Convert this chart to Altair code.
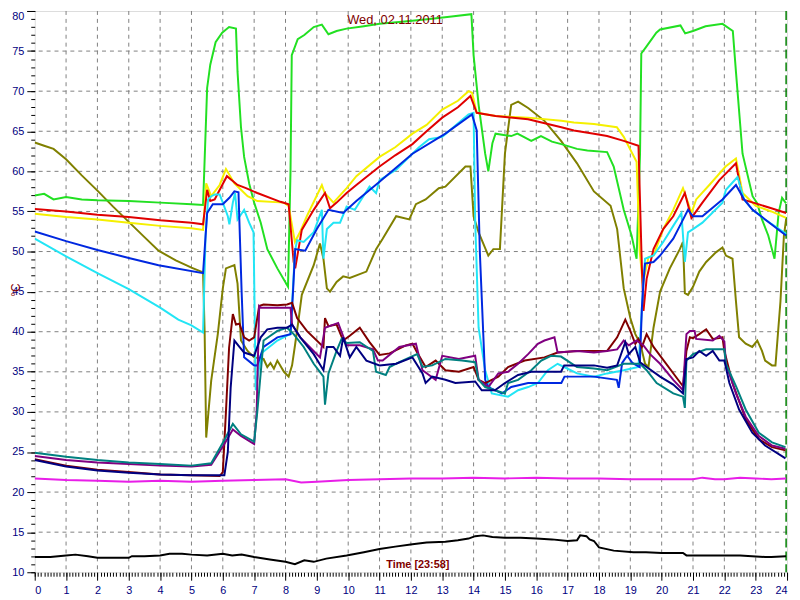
import altair as alt
import pandas as pd

# ---------------- data (hours, °C) ----------------
olive_t = [0, 0.3, 0.6, 1.0, 1.5, 2.0, 2.5, 3.0, 3.5, 3.95, 4.5, 5.0, 5.37, 5.42, 5.47, 5.63, 5.84, 6.0, 6.1, 6.37, 6.47, 6.58, 6.79, 7.0, 7.3, 7.42, 7.52, 7.63, 7.74, 7.95, 8.1, 8.21, 8.31, 8.4, 8.52, 8.9, 9.1, 9.21, 9.32, 9.42, 9.63, 9.84, 10.05, 10.58, 10.89, 11.1, 11.53, 11.95, 12.16, 12.47, 12.89, 13.1, 13.74, 13.9, 14.0, 14.16, 14.47, 14.63, 14.84, 15.0, 15.2, 15.42, 15.74, 16.26, 16.79, 17.3, 17.84, 18.37, 18.58, 18.79, 19.0, 19.16, 19.32, 19.47, 19.58, 19.74, 19.95, 20.26, 20.58, 20.68, 20.74, 20.84, 21.0, 21.2, 21.42, 21.73, 21.94, 22.05, 22.26, 22.37, 22.47, 22.68, 22.89, 23.05, 23.2, 23.3, 23.52, 23.63, 23.79, 23.9, 23.97]
olive_v = [63.6, 63.2, 62.8, 61.5, 59.5, 57.6, 55.6, 53.7, 51.8, 50.1, 48.9, 48.0, 47.4, 40.0, 26.8, 33.9, 39.7, 45.4, 47.9, 48.3, 46.0, 38.9, 37.6, 36.8, 36.6, 35.6, 36.1, 35.4, 36.4, 35.0, 34.4, 35.8, 38.5, 41.0, 44.6, 48.3, 51.0, 49.1, 45.4, 45.0, 46.2, 46.9, 46.7, 47.5, 50.3, 51.6, 54.4, 54.0, 55.9, 56.5, 57.9, 58.1, 60.6, 60.6, 54.4, 52.4, 49.5, 50.3, 50.3, 62.2, 68.3, 68.7, 67.9, 66.3, 63.8, 61.0, 57.5, 55.7, 52.8, 45.4, 41.7, 39.7, 38.5, 36.0, 35.6, 40.5, 45.0, 47.9, 50.3, 51.2, 44.8, 44.6, 45.6, 47.5, 48.7, 49.9, 50.5, 49.5, 49.1, 43.8, 39.3, 38.5, 38.1, 38.9, 37.6, 36.4, 35.8, 35.8, 43.8, 52.0, 54.0]

green_t = [0, 0.3, 0.6, 1.0, 1.5, 2.0, 3.0, 4.0, 5.0, 5.37, 5.5, 5.6, 5.77, 5.98, 6.2, 6.42, 6.47, 6.58, 6.68, 6.84, 7.0, 7.21, 7.42, 7.74, 8.08, 8.16, 8.2, 8.39, 8.6, 8.9, 9.16, 9.37, 9.63, 9.95, 10.5, 11.0, 11.8, 12.6, 13.3, 13.93, 14.0, 14.16, 14.37, 14.47, 14.6, 14.7, 15.2, 15.4, 15.84, 16.15, 16.5, 16.8, 17.3, 17.63, 18.26, 18.47, 18.79, 19.04, 19.2, 19.31, 19.35, 19.5, 19.83, 19.95, 20.6, 20.75, 21.0, 21.4, 21.94, 22.27, 22.37, 22.58, 22.9, 23.05, 23.2, 23.4, 23.6, 23.73, 23.84, 23.97]
green_v = [57.0, 57.2, 56.5, 56.8, 56.5, 56.4, 56.3, 56.1, 55.9, 55.8, 70.4, 73.3, 76.1, 77.3, 78.0, 77.8, 72.4, 65.5, 61.8, 58.5, 56.1, 53.6, 50.3, 47.9, 45.6, 60.0, 74.5, 76.5, 77.0, 78.0, 78.3, 77.1, 77.5, 77.8, 78.1, 78.4, 78.7, 79.0, 79.3, 79.6, 74.5, 68.3, 62.2, 60.0, 63.5, 64.7, 64.4, 64.7, 63.8, 64.4, 63.7, 63.4, 62.8, 62.6, 62.4, 60.6, 55.2, 52.0, 49.1, 62.2, 74.7, 75.5, 77.3, 77.7, 78.2, 77.2, 77.5, 78.1, 78.4, 77.5, 72.4, 62.2, 56.9, 56.0, 54.0, 52.0, 49.1, 54.8, 56.7, 56.0]

yellow_t = [0, 1, 2, 3, 4, 5, 5.37, 5.47, 5.63, 5.9, 6.1, 6.37, 6.58, 6.79, 7.0, 7.1, 7.95, 8.1, 8.3, 8.46, 8.68, 9.16, 9.25, 9.53, 9.95, 10.26, 11.0, 11.5, 12.05, 12.5, 13.0, 13.5, 13.84, 13.95, 14.1, 14.7, 15.74, 16.8, 17.2, 17.84, 18.57, 18.79, 19.2, 19.3, 19.4, 19.58, 19.74, 20.05, 20.37, 20.68, 20.84, 20.95, 21.1, 21.52, 22.04, 22.37, 22.58, 23.0, 23.5, 23.97]
yellow_v = [54.7, 54.3, 54.0, 53.6, 53.2, 52.9, 52.7, 58.5, 56.9, 58.3, 60.3, 58.5, 57.7, 56.9, 56.5, 56.3, 56.1, 55.7, 51.2, 52.4, 54.4, 58.3, 57.3, 56.1, 57.9, 59.4, 61.8, 63.0, 64.7, 65.8, 67.7, 68.8, 70.0, 69.8, 67.3, 66.9, 66.7, 66.3, 66.1, 65.9, 65.5, 64.3, 61.2, 50.0, 46.0, 49.3, 49.5, 52.8, 55.2, 57.9, 56.1, 54.8, 56.5, 58.3, 60.6, 61.6, 57.3, 55.7, 55.0, 54.2]

red_t = [0, 1, 2, 3, 4, 5, 5.37, 5.5, 5.6, 5.74, 6.13, 6.47, 6.74, 7.1, 7.84, 8.1, 8.26, 8.31, 8.52, 8.9, 9.26, 9.42, 9.63, 9.95, 10.26, 11.0, 11.5, 12.05, 12.5, 13.0, 13.5, 13.9, 14.1, 14.7, 15.74, 16.8, 17.2, 17.84, 18.26, 18.79, 19.26, 19.37, 19.42, 19.52, 19.74, 20.05, 20.37, 20.74, 20.95, 21.3, 21.84, 22.37, 22.58, 23.0, 23.5, 23.97]
red_v = [55.3, 55.0, 54.6, 54.3, 53.9, 53.6, 53.4, 57.7, 56.3, 56.5, 59.4, 58.3, 57.9, 57.3, 56.2, 55.9, 48.7, 47.9, 52.7, 55.2, 57.3, 55.4, 56.1, 57.3, 58.3, 60.6, 62.0, 63.4, 65.0, 66.7, 68.0, 69.4, 67.3, 66.9, 66.5, 65.5, 65.1, 64.7, 64.4, 63.8, 63.2, 47.9, 42.6, 46.6, 50.3, 52.8, 54.4, 57.3, 54.2, 56.1, 58.9, 61.0, 56.5, 56.0, 55.4, 54.8]

cyan_t = [0, 1, 2, 3, 4, 4.58, 5.0, 5.37, 5.45, 5.53, 5.63, 5.74, 5.9, 6.0, 6.16, 6.21, 6.32, 6.39, 6.47, 6.68, 6.84, 6.98, 7.05, 7.16, 7.26, 7.74, 8.05, 8.16, 8.3, 8.37, 8.58, 8.9, 9.16, 9.21, 9.32, 9.53, 9.74, 9.95, 10.21, 10.68, 10.89, 11.0, 11.53, 12.26, 12.58, 13.0, 13.84, 14.0, 14.05, 14.16, 14.37, 14.58, 15.1, 15.42, 15.74, 16.05, 16.37, 16.68, 16.89, 17.3, 17.84, 18.26, 18.79, 19.26, 19.4, 19.47, 19.74, 20.05, 20.37, 20.63, 20.74, 20.84, 21.0, 21.3, 21.94, 22.05, 22.42, 22.63, 22.9, 23.3, 23.97]
cyan_v = [51.6, 49.4, 47.3, 45.3, 43.0, 41.5, 40.8, 39.9, 52.0, 56.5, 56.9, 57.1, 57.1, 56.1, 54.4, 53.4, 56.1, 57.3, 54.0, 55.2, 53.6, 52.4, 32.7, 35.6, 37.4, 38.9, 39.5, 39.7, 50.0, 51.4, 51.2, 52.4, 55.2, 49.1, 52.8, 53.6, 53.6, 55.6, 55.2, 58.1, 57.3, 58.9, 60.2, 63.0, 64.0, 64.3, 67.1, 67.3, 54.0, 40.5, 35.2, 32.3, 31.9, 32.7, 33.1, 33.6, 35.2, 36.0, 35.6, 34.8, 34.4, 34.8, 35.2, 35.6, 45.0, 49.1, 49.5, 51.2, 53.2, 54.8, 48.7, 52.4, 52.8, 53.6, 56.1, 57.7, 59.3, 56.5, 55.2, 54.0, 52.2]

blue_t = [0, 1, 2, 3, 3.95, 5.37, 5.5, 5.68, 6.0, 6.21, 6.37, 6.5, 6.6, 6.68, 7.0, 7.1, 7.3, 7.74, 8.16, 8.24, 8.31, 8.63, 9.0, 9.37, 9.84, 10.26, 11.0, 12.05, 13.1, 13.95, 14.1, 14.2, 14.37, 14.47, 14.9, 15.2, 15.74, 16.8, 16.9, 17.84, 18.57, 18.63, 18.74, 18.9, 19.07, 19.3, 19.37, 19.42, 19.47, 19.74, 19.95, 20.37, 20.58, 20.84, 21.0, 21.3, 21.94, 22.37, 22.63, 22.9, 23.3, 23.97]
blue_v = [52.5, 51.3, 50.2, 49.2, 48.3, 47.3, 54.8, 55.9, 55.9, 56.7, 57.5, 57.4, 45.0, 36.8, 35.8, 35.8, 38.1, 39.3, 39.7, 45.0, 50.3, 50.1, 52.8, 55.2, 54.8, 56.3, 58.7, 62.2, 64.7, 67.1, 65.1, 49.9, 34.0, 33.1, 32.3, 33.1, 33.6, 33.6, 34.4, 34.4, 34.0, 33.0, 36.1, 37.0, 36.1, 35.6, 43.0, 46.2, 48.5, 48.7, 49.5, 51.6, 53.2, 55.2, 54.4, 54.4, 56.5, 58.3, 56.5, 55.2, 54.0, 52.0]

maroon_t = [0, 1, 2, 3, 4, 5, 5.9, 6.0, 6.1, 6.2, 6.32, 6.42, 6.53, 6.68, 6.84, 7.0, 7.16, 7.3, 7.74, 8.05, 8.21, 8.37, 8.68, 9.21, 9.26, 9.37, 9.63, 9.84, 10.05, 10.37, 10.68, 11.0, 11.32, 11.84, 12.05, 12.2, 12.47, 12.79, 13.1, 13.53, 14.0, 14.16, 14.37, 14.79, 15.1, 15.63, 16.26, 16.68, 17.3, 18.26, 18.58, 18.84, 19.0, 19.16, 19.26, 19.37, 19.52, 19.74, 20.68, 20.79, 20.9, 21.0, 21.2, 21.42, 21.63, 21.84, 21.94, 22.0, 22.26, 22.68, 23.1, 23.52, 23.95]
maroon_v = [24.1, 23.3, 22.8, 22.5, 22.2, 22.1, 22.0, 22.5, 30.0, 38.0, 42.2, 40.9, 41.0, 39.3, 38.9, 39.3, 43.2, 43.4, 43.3, 43.4, 43.6, 41.7, 40.1, 38.1, 41.7, 40.7, 40.9, 38.9, 39.5, 40.5, 38.7, 37.1, 37.3, 38.3, 38.5, 37.4, 35.6, 36.4, 35.2, 35.0, 35.6, 34.0, 33.6, 34.4, 35.6, 36.4, 36.8, 37.4, 37.6, 37.6, 39.3, 41.5, 40.1, 38.5, 39.1, 38.1, 39.7, 38.1, 33.2, 37.6, 39.3, 39.2, 39.7, 40.3, 39.1, 39.2, 39.3, 37.6, 33.6, 29.1, 26.6, 25.6, 25.2]

purple_t = [0, 1, 2, 3, 4, 5, 5.63, 6.05, 6.32, 6.58, 7.0, 7.08, 7.16, 7.21, 7.5, 8.0, 8.16, 8.21, 8.47, 9.1, 9.26, 9.68, 9.95, 10.37, 10.79, 10.95, 11.1, 11.63, 12.16, 12.37, 12.79, 13.0, 13.53, 14.05, 14.16, 14.47, 14.79, 15.1, 15.42, 15.74, 16.05, 16.26, 16.58, 16.68, 17.3, 17.84, 18.26, 18.58, 18.79, 18.95, 19.2, 19.42, 19.63, 19.95, 20.37, 20.68, 20.79, 20.9, 21.05, 21.1, 21.63, 21.84, 22.0, 22.05, 22.37, 22.68, 23.1, 23.52, 23.95]
purple_v = [24.5, 24.0, 23.7, 23.5, 23.3, 23.2, 23.4, 26.0, 27.8, 27.0, 26.0, 30.0, 43.2, 43.0, 43.0, 43.0, 43.0, 40.9, 39.3, 36.8, 40.5, 41.1, 38.3, 38.3, 37.8, 36.4, 36.4, 38.1, 38.5, 35.2, 34.0, 37.0, 36.6, 37.0, 34.0, 33.1, 34.8, 35.0, 36.0, 37.2, 38.5, 38.9, 39.3, 37.4, 37.6, 37.4, 37.6, 37.8, 38.9, 38.3, 38.9, 38.3, 37.2, 36.0, 34.0, 32.7, 39.7, 40.1, 40.1, 39.1, 38.9, 39.5, 38.8, 36.0, 32.3, 29.4, 27.0, 25.8, 25.4]

teal_t = [0, 1, 2, 3, 4, 5, 5.63, 6.05, 6.32, 6.58, 7.0, 7.1, 7.3, 7.74, 8.05, 8.26, 8.58, 8.9, 9.21, 9.26, 9.37, 9.63, 9.79, 9.95, 10.37, 10.79, 10.89, 11.2, 11.32, 11.63, 12.2, 12.37, 12.68, 13.1, 13.63, 14.05, 14.16, 14.37, 14.68, 15.0, 15.1, 15.42, 15.84, 16.16, 16.47, 16.79, 17.3, 17.84, 18.26, 18.79, 19.31, 19.52, 19.84, 20.37, 20.68, 20.74, 20.79, 21.0, 21.42, 22.0, 22.05, 22.37, 22.68, 23.1, 23.52, 23.95]
teal_v = [24.9, 24.4, 24.0, 23.7, 23.5, 23.3, 23.6, 26.5, 28.5, 27.2, 26.3, 30.0, 38.9, 40.1, 40.5, 39.7, 38.1, 36.0, 34.4, 30.9, 34.8, 37.6, 39.1, 38.6, 38.7, 37.6, 35.0, 34.6, 35.6, 36.2, 37.2, 35.6, 35.8, 36.6, 36.4, 36.2, 34.0, 33.1, 32.7, 32.3, 33.6, 34.0, 35.2, 36.4, 37.0, 36.9, 35.6, 35.4, 35.2, 36.0, 36.0, 35.2, 33.6, 32.3, 31.9, 30.5, 36.4, 37.2, 37.8, 37.8, 36.0, 33.2, 30.3, 27.4, 26.2, 25.6]

navy_t = [0, 0.5, 1, 2, 3, 4, 5, 6.05, 6.16, 6.25, 6.37, 6.53, 6.68, 7.0, 7.21, 7.42, 7.74, 8.05, 8.21, 8.47, 8.9, 9.21, 9.32, 9.53, 9.74, 9.84, 10.05, 10.26, 10.58, 11.0, 11.53, 12.05, 12.37, 12.47, 12.68, 13.1, 13.42, 14.05, 14.26, 14.68, 15.0, 15.42, 15.84, 16.79, 16.89, 17.84, 18.26, 18.58, 18.74, 18.84, 18.95, 19.16, 19.31, 19.52, 19.95, 20.37, 20.68, 20.79, 21.0, 21.2, 21.42, 21.63, 21.84, 22.0, 22.16, 22.47, 22.89, 23.3, 23.95]
navy_v = [24.0, 23.6, 23.2, 22.7, 22.4, 22.2, 22.1, 22.1, 25.0, 33.0, 38.9, 38.1, 37.4, 37.0, 39.3, 40.3, 40.5, 40.5, 40.9, 39.3, 37.2, 35.2, 38.1, 38.1, 37.0, 39.3, 36.8, 38.1, 36.4, 35.8, 36.0, 36.8, 34.8, 33.6, 34.4, 34.0, 33.6, 33.8, 32.7, 32.7, 33.6, 34.6, 35.0, 35.0, 35.8, 35.8, 35.5, 35.8, 37.6, 38.7, 37.2, 38.1, 36.2, 35.6, 34.4, 33.4, 32.3, 36.6, 36.8, 37.6, 37.0, 37.6, 36.4, 36.4, 33.6, 30.3, 27.4, 25.8, 24.2]

magenta_t = [0, 0.5, 1, 2, 3, 4, 5, 6, 7, 8, 8.5, 9, 10, 11, 12, 13, 14, 15, 16, 17, 18, 19, 20, 21, 21.3, 21.7, 22, 22.5, 23, 23.5, 23.97]
magenta_v = [21.7, 21.6, 21.5, 21.4, 21.3, 21.4, 21.3, 21.4, 21.5, 21.6, 21.2, 21.3, 21.5, 21.6, 21.7, 21.7, 21.8, 21.7, 21.8, 21.7, 21.7, 21.6, 21.6, 21.6, 21.8, 21.6, 21.6, 21.8, 21.7, 21.6, 21.7]

black_t = [0, 0.5, 1, 1.3, 1.7, 2, 2.5, 3, 3.1, 3.5, 4, 4.3, 4.7, 5, 5.5, 6, 6.3, 6.6, 7, 7.5, 8, 8.3, 8.6, 8.9, 9.3, 9.95, 10.5, 11.0, 11.5, 12.05, 12.5, 13.1, 13.5, 13.84, 14.05, 14.3, 14.6, 15, 15.5, 16, 16.5, 17, 17.3, 17.4, 17.6, 17.7, 17.84, 18.0, 18.47, 19.1, 19.5, 20.0, 20.68, 20.79, 21.5, 22.05, 22.5, 23.3, 23.5, 23.97]
black_v = [11.9, 11.9, 12.1, 12.2, 12.0, 11.8, 11.8, 11.8, 12.0, 12.0, 12.1, 12.3, 12.3, 12.2, 12.1, 12.3, 12.1, 12.2, 11.9, 11.6, 11.3, 11.0, 11.5, 11.3, 11.7, 12.1, 12.5, 12.9, 13.2, 13.5, 13.7, 13.8, 14.0, 14.2, 14.5, 14.6, 14.4, 14.3, 14.3, 14.2, 14.1, 13.9, 14.0, 14.6, 14.5, 14.1, 13.9, 13.1, 12.7, 12.5, 12.5, 12.4, 12.4, 12.1, 12.1, 12.1, 12.1, 11.9, 11.9, 12.0]

series_names = ["olive", "green", "yellow", "red", "cyan", "blue", "maroon", "purple", "teal", "navy", "magenta", "black"]
series_colors = ["#808000", "#22e022", "#f5f000", "#e00000", "#22e5f5", "#0028e0", "#800000", "#800080", "#008080", "#000080", "#e81ee8", "#000000"]
series_data = [(olive_t, olive_v), (green_t, green_v), (yellow_t, yellow_v), (red_t, red_v),
               (cyan_t, cyan_v), (blue_t, blue_v), (maroon_t, maroon_v), (purple_t, purple_v),
               (teal_t, teal_v), (navy_t, navy_v), (magenta_t, magenta_v), (black_t, black_v)]

x_major = list(range(0, 25))
y_major = [10, 15, 20, 25, 30, 35, 40, 45, 50, 55, 60, 65, 70, 75, 80]
y_top_label = [80]
x_minor = [i / 10 for i in range(0, 241)]
y_minor = list(range(10, 81))
grid_x = list(range(1, 24))
grid_y = [15, 20, 25, 30, 35, 40, 45, 50, 55, 60, 65, 70, 75]
now_t = [23.97]

title_text = "Wed, 02.11.2011"
time_text = "Time [23:58]"
unit_text = "°C"

# ---------------- build ----------------
rows = []
for i, (name, (ts, vs)) in enumerate(zip(series_names, series_data)):
    for t, v in zip(ts, vs):
        rows.append({"s": name, "k": i, "t": t, "v": v})
df = pd.DataFrame(rows)

W, H = 760, 567
xs = alt.Scale(domain=[0, 24], nice=False, zero=False)
ys = alt.Scale(domain=[10, 80], nice=False, zero=False)
LBL = dict(labelFont="Liberation Sans", labelFontSize=11, labelColor="#000080")

gx = alt.Chart(pd.DataFrame({"t": grid_x})).mark_rule(
    color="#808080", strokeWidth=1, strokeDash=[4, 4]
).encode(x=alt.X("t:Q", scale=xs, axis=None))
gy = alt.Chart(pd.DataFrame({"v": grid_y})).mark_rule(
    color="#808080", strokeWidth=1, strokeDash=[4, 4]
).encode(y=alt.Y("v:Q", scale=ys, axis=None))

lines = alt.Chart(df).mark_line(strokeWidth=2, clip=True).encode(
    x=alt.X("t:Q", scale=xs, title=None,
            axis=alt.Axis(values=x_major, orient="bottom", tickSize=8, tickColor="#000000",
                          domain=False, grid=False, labelPadding=4, format="d", **LBL)),
    y=alt.Y("v:Q", scale=ys, title=None,
            axis=alt.Axis(values=y_major, orient="left", tickSize=8, tickColor="#000000",
                          domain=False, grid=False, labelPadding=3, format="d",
                          labelExpr="datum.value == 80 ? '' : datum.label", **LBL)),
    color=alt.Color("s:N", scale=alt.Scale(domain=series_names, range=series_colors), legend=None),
    order=alt.Order("t:Q"),
)

minor = alt.Chart(pd.DataFrame({"t": [0], "v": [10]})).mark_point(opacity=0).encode(
    x=alt.X("t:Q", scale=xs, title=None,
            axis=alt.Axis(values=x_minor, orient="bottom", tickSize=4, tickColor="#000000",
                          labels=False, domain=False, grid=False)),
    y=alt.Y("v:Q", scale=ys, title=None,
            axis=alt.Axis(values=y_minor, orient="left", tickSize=4, tickColor="#000000",
                          labels=False, domain=False, grid=False)),
)

toplab = alt.Chart(pd.DataFrame({"v": [80]})).mark_point(opacity=0).encode(
    y=alt.Y("v:Q", scale=ys, title=None,
            axis=alt.Axis(values=y_top_label, orient="left", tickSize=8, tickColor="#000000",
                          domain=False, grid=False, labelPadding=3, format="d",
                          labelFlush=True, **LBL)),
)

now_rule = alt.Chart(pd.DataFrame({"t": now_t})).mark_rule(
    color="#008000", strokeWidth=1.5, strokeDash=[9, 4]
).encode(x=alt.X("t:Q", scale=xs, axis=None))

title = alt.Chart(pd.DataFrame({"txt": [title_text]})).mark_text(
    font="Liberation Sans", fontSize=13, color="#800000", align="center", baseline="middle"
).encode(text="txt:N", x=alt.value(364), y=alt.value(9))

time_lbl = alt.Chart(pd.DataFrame({"txt": [time_text]})).mark_text(
    font="Liberation Sans", fontSize=11, fontWeight="bold", color="#800000", align="center", baseline="middle"
).encode(text="txt:N", x=alt.value(387), y=alt.value(560))

unit_lbl = alt.Chart(pd.DataFrame({"txt": [unit_text]})).mark_text(
    font="Liberation Sans", fontSize=12, color="#800000", align="center", baseline="middle", angle=270
).encode(text="txt:N", x=alt.value(-19), y=alt.value(282))

chart = alt.layer(gx, gy, now_rule, lines, minor, toplab, title, time_lbl, unit_lbl).resolve_axis(
    x="independent", y="independent"
).properties(
    width=W, height=H,
    autosize=alt.AutoSizeParams(type="none"),
    padding={"left": 27, "top": 0, "right": 5, "bottom": 25},
).configure_view(stroke=None).configure(background="#ffffff")

chart.save("out.html", embed_options={"renderer": "svg", "actions": False})
